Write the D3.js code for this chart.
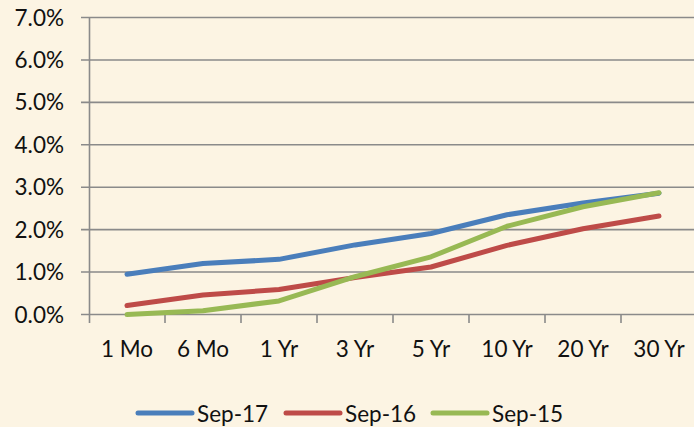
<!DOCTYPE html>
<html><head><meta charset="utf-8">
<script src="https://cdn.jsdelivr.net/npm/d3@7"></script>
<style>html,body{margin:0;padding:0;background:#FCF4E3} svg{display:block}</style>
</head><body><svg id="c" width="694" height="427"></svg>
<script>
const categories = ["1 Mo","6 Mo","1 Yr","3 Yr","5 Yr","10 Yr","20 Yr","30 Yr"];
const sep17 = [0.95,1.20,1.30,1.64,1.91,2.35,2.63,2.86];
const sep16 = [0.21,0.46,0.59,0.87,1.12,1.63,2.02,2.32];
const sep15 = [0.00,0.09,0.32,0.89,1.36,2.08,2.54,2.87];
const seriesNames = ["Sep-17","Sep-16","Sep-15"];
const seriesColors = ["#4A7EBB","#BE4B48","#98B954"];
const yTicks = [0,1,2,3,4,5,6,7];

const series = [sep17, sep16, sep15];
const svg = d3.select("#c");
const font = "Lato, 'Open Sans', sans-serif";
const fs = 22.5;

const x = d3.scaleBand().domain(categories).range([89, 697]);
const y = d3.scaleLinear().domain([0, 7]).range([314.5, 17.5]);

svg.append("rect").attr("width",694).attr("height",427).attr("fill","#FCF4E3");

// gridlines
svg.append("g").selectAll("line").data(yTicks).join("line")
  .attr("x1",81).attr("x2",694)
  .attr("y1",d=>y(d)).attr("y2",d=>y(d))
  .attr("stroke","#8A8A8A").attr("stroke-width",1.6);

// y axis line
svg.append("line").attr("x1",89.5).attr("x2",89.5).attr("y1",y(7)).attr("y2",323)
  .attr("stroke","#8A8A8A").attr("stroke-width",1.6);

// x ticks
const bounds = categories.map(c=>x(c)).concat([x(categories[categories.length-1])+x.bandwidth()]);
svg.append("g").selectAll("line").data(bounds.slice(1)).join("line")
  .attr("x1",d=>d).attr("x2",d=>d).attr("y1",y(0)).attr("y2",323)
  .attr("stroke","#8A8A8A").attr("stroke-width",1.6);

// y labels
svg.append("g").selectAll("text").data(yTicks).join("text")
  .attr("x",64).attr("y",d=>y(d)+8)
  .attr("text-anchor","end").attr("font-family",font).attr("font-size",fs).attr("fill","#111")
  .text(d=>d.toFixed(1)+"%");

// x labels
svg.append("g").selectAll("text").data(categories).join("text")
  .attr("x",d=>x(d)+x.bandwidth()/2).attr("y",357)
  .attr("text-anchor","middle").attr("font-family",font).attr("font-size",fs).attr("fill","#111")
  .text(d=>d);

// lines
const line = d3.line().x((d,i)=>x(categories[i])+x.bandwidth()/2).y(d=>y(d));
svg.append("g").selectAll("path").data(series).join("path")
  .attr("d",d=>line(d)).attr("fill","none")
  .attr("stroke",(d,i)=>seriesColors[i]).attr("stroke-width",5)
  .attr("stroke-linecap","round").attr("stroke-linejoin","round");

// legend
const legX = [138, 286, 433];
const lg = svg.append("g").selectAll("g").data(seriesNames).join("g")
  .attr("transform",(d,i)=>`translate(${legX[i]},413)`);
lg.append("line").attr("x1",0).attr("x2",54).attr("y1",0).attr("y2",0)
  .attr("stroke",(d,i)=>seriesColors[i]).attr("stroke-width",5).attr("stroke-linecap","round");
lg.append("text").attr("x",59).attr("y",8.5).attr("font-family",font).attr("font-size",fs).attr("fill","#111")
  .text(d=>d);
</script></body></html>
